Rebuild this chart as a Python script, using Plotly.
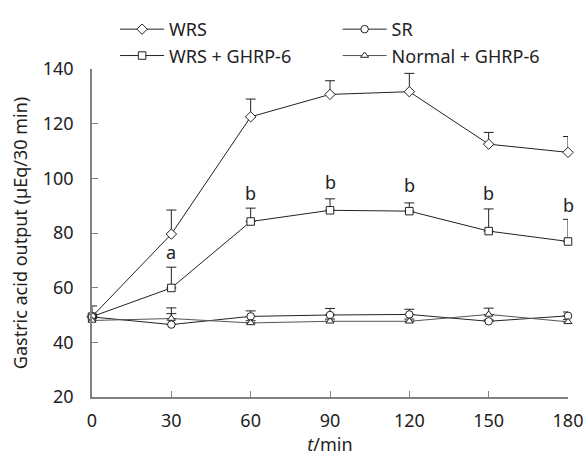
import plotly.graph_objects as go

# ---- data ----
time_min = [0, 30, 60, 90, 120, 150, 180]

wrs = [49.4, 79.6, 122.5, 130.7, 131.7, 112.5, 109.5]
wrs_err = [3.9, 8.8, 6.5, 5.0, 6.7, 4.3, 5.8]

wrs_ghrp = [49.4, 59.9, 84.2, 88.3, 88.0, 80.7, 76.9]
wrs_ghrp_err = [0.5, 7.6, 4.9, 4.2, 3.0, 8.1, 8.1]

sr = [49.3, 46.5, 49.5, 50.0, 50.2, 47.7, 49.7]
sr_err = [1.0, 6.1, 2.0, 2.4, 1.9, 0.5, 1.4]

normal_ghrp = [48.0, 48.7, 47.1, 47.7, 47.7, 50.2, 47.5]
normal_ghrp_err = [0.8, 1.8, 0.8, 0.8, 0.8, 2.3, 0.8]

sig_x = [30, 60, 90, 120, 150, 180]
sig_y = [73.1, 94.6, 98.7, 97.5, 94.5, 90.4]
sig_labels = ["a", "b", "b", "b", "b", "b"]

x_ticks = [0, 30, 60, 90, 120, 150, 180]
y_ticks = [20, 40, 60, 80, 100, 120, 140]

FONT = "Noto Sans"
TXT = "#222222"
AX = "#808080"

fig = go.Figure()


def add_series(name, y, err, symbol, size, legend, group, line_color="#222222"):
    fig.add_trace(go.Scatter(
        x=time_min, y=y, name=name, mode="lines+markers",
        line=dict(color=line_color, width=1),
        marker=dict(symbol=symbol, size=size, color="white",
                    line=dict(color="#222222", width=1)),
        error_y=dict(type="data", symmetric=False, array=err,
                     arrayminus=[0] * len(err), color="#222222",
                     thickness=1, width=5),
        cliponaxis=False, legend=legend, legendgroup=group,
    ))


add_series("WRS", wrs, wrs_err, "diamond", 8, "legend", "g1")
add_series("WRS + GHRP-6", wrs_ghrp, wrs_ghrp_err, "square", 7.5, "legend", "g2")
add_series("SR", sr, sr_err, "circle", 7.5, "legend2", "g3")
add_series("Normal + GHRP-6", normal_ghrp, normal_ghrp_err, "triangle-up", 7,
           "legend2", "g4", line_color="#555555")

for xv, yv, lab in zip(sig_x, sig_y, sig_labels):
    fig.add_annotation(x=xv, y=yv, text=lab, showarrow=False,
                       font=dict(family=FONT, size=18, color=TXT),
                       xanchor="center", yanchor="middle")

legend_common = dict(
    orientation="v", bgcolor="rgba(0,0,0,0)", borderwidth=0,
    font=dict(family=FONT, size=18, color=TXT),
    tracegroupgap=0, xanchor="left", yanchor="top", itemwidth=44,
)

fig.update_layout(
    width=585, height=456, autosize=False,
    margin=dict(l=92, r=17, t=69, b=59, autoexpand=False),
    paper_bgcolor="white", plot_bgcolor="white",
    font=dict(family=FONT, size=18, color=TXT),
    showlegend=True,
    legend=dict(x=0.0485, y=1.177, **legend_common),
    legend2=dict(x=0.516, y=1.177, **legend_common),
    xaxis=dict(
        range=[0, 180], tickvals=x_ticks, ticktext=[str(v) for v in x_ticks],
        showgrid=False, zeroline=False, showline=True, linecolor=AX,
        linewidth=1.5, ticks="inside", ticklen=6, tickcolor=AX, tickwidth=1,
        ticklabelstandoff=7, automargin=False,
        tickfont=dict(family=FONT, size=18, color=TXT),
        title=dict(text="<i>t</i>/min", standoff=21,
                   font=dict(family=FONT, size=18, color=TXT)),
    ),
    yaxis=dict(
        range=[20, 140], tickvals=y_ticks, ticktext=[str(v) for v in y_ticks],
        showgrid=False, zeroline=False, showline=True, linecolor=AX,
        linewidth=1.5, ticks="inside", ticklen=6, tickcolor=AX, tickwidth=1,
        ticklabelstandoff=13, automargin=False,
        tickfont=dict(family=FONT, size=18, color=TXT),
        title=dict(text="Gastric acid output (µEq/30 min)", standoff=10,
                   font=dict(family=FONT, size=18, color=TXT)),
    ),
)

fig.write_html(
    "out.html",
    config={"displayModeBar": False},
    post_script="document.body.style.margin='0';document.body.style.overflow='hidden';",
)
